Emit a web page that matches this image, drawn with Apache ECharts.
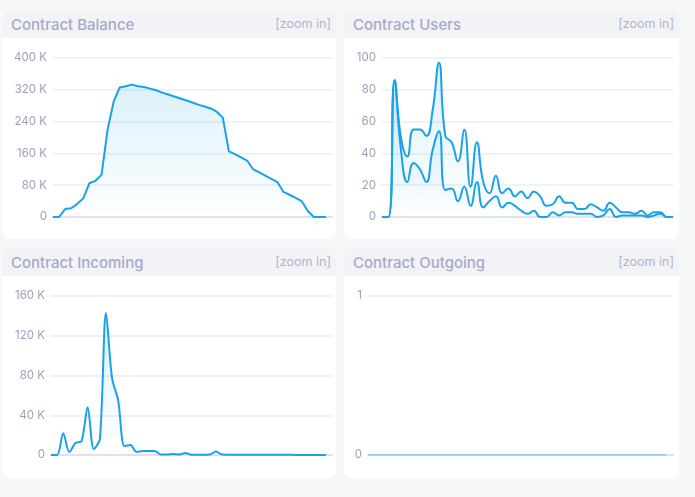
<!DOCTYPE html>
<html>
<head>
<meta charset="utf-8">
<script src="https://cdn.jsdelivr.net/npm/echarts@6/dist/echarts.min.js"></script>
<style>
  html, body { margin: 0; padding: 0; background: #f6f7f9; }
  body { width: 695px; height: 497px; position: relative; overflow: hidden; font-family: Inter, "Noto Sans", sans-serif; }
  .card { position: absolute; background: #fff; border-radius: 8px; }
  .head { height: 28px; background: #f2f3f6; border-radius: 8px 8px 0 0; position: relative; }
  .head .t { position: absolute; left: 9px; top: 5px; font-size: 15px; font-weight: 500; color: #a9a9c8; }
  .head .z { position: absolute; right: 5px; top: 6px; font-size: 12.5px; color: #b3b3cd; }
  .body { width: 100%; }
</style>
</head>
<body>
<div class="card" style="left:2px;top:10px;width:334px;height:229px">
  <div class="head"><span class="t">Contract Balance</span><span class="z">[zoom in]</span></div>
  <div class="body" id="c_balance" style="height:201px"></div>
</div>
<div class="card" style="left:344px;top:10px;width:335px;height:229px">
  <div class="head"><span class="t">Contract Users</span><span class="z">[zoom in]</span></div>
  <div class="body" id="c_users" style="height:201px"></div>
</div>
<div class="card" style="left:2px;top:248px;width:334px;height:230px">
  <div class="head"><span class="t">Contract Incoming</span><span class="z">[zoom in]</span></div>
  <div class="body" id="c_incoming" style="height:202px"></div>
</div>
<div class="card" style="left:344px;top:248px;width:335px;height:230px">
  <div class="head"><span class="t">Contract Outgoing</span><span class="z">[zoom in]</span></div>
  <div class="body" id="c_outgoing" style="height:202px"></div>
</div>
<script>
// x slots (days), 47 per chart
var days = [];
for (var d = 1; d <= 47; d++) days.push('d' + d);

var balance = [0, 0, 20000, 22000, 33000, 47000, 85000, 91000, 106000, 220000,
  290000, 326000, 329000, 333000, 329000, 327000, 323000, 319000, 313000, 308000,
  303000, 298000, 293000, 288000, 282000, 278000, 273000, 265000, 250000, 165000,
  158000, 150000, 142000, 120000, 112000, 104000, 96000, 88000, 63000, 56000,
  48000, 40000, 15000, 0, 0, 0];

var usersA = [0, 0, 86, 50, 38, 55, 55, 51, 67, 97, 51, 47, 35, 55, 19, 47, 22, 15, 26, 15,
  18, 13, 16, 12, 16, 13, 7, 8, 13, 9, 9, 5, 5, 8, 6, 4, 9, 6, 3, 3,
  2, 4, 1, 3, 3, 0, 0];
var usersB = [0, 0, 86, 42, 22, 34, 30, 22, 42, 54, 17, 18, 10, 19, 7, 22, 6, 10, 13, 6,
  9, 7, 4, 2, 4, 0, 0, 3, 1, 3, 3, 2, 2, 2, 0, 1, 5, 0, 1, 1,
  1, 1, 0, 1, 2, 0, 0];

var incoming = [0, 0, 22000, 3000, 12000, 14000, 48000, 6000, 16000, 143000,
  77000, 55000, 9000, 10000, 3000, 4000, 4000, 4000, 500, 500,
  1000, 500, 2000, 300, 300, 300, 500, 3500, 500, 300,
  200, 200, 200, 200, 200, 200, 200, 200, 200, 200,
  100, 100, 100, 100, 0, 0];

var outgoing = [0, 0, 0, 0, 0, 0, 0, 0, 0, 0, 0, 0, 0, 0, 0, 0, 0, 0, 0, 0,
  0, 0, 0, 0, 0, 0, 0, 0, 0, 0, 0, 0, 0, 0, 0, 0, 0, 0, 0, 0,
  0, 0, 0, 0, 0, 0];

var LINE = '#19a2e6';

function kfmt(v) {
  return v === 0 ? '0' : (v / 1000) + ' K';
}

function area() {
  return {
    color: new echarts.graphic.LinearGradient(0, 0, 0, 1, [
      { offset: 0, color: 'rgba(25,162,230,0.22)' },
      { offset: 1, color: 'rgba(25,162,230,0)' }
    ])
  };
}

function make_option(grid, yMax, yStep, fmt, series) {
  return {
    animation: false,
    grid: grid,
    xAxis: {
      type: 'category',
      boundaryGap: false,
      data: days,
      axisLine: { show: true, lineStyle: { color: '#dde2ec', width: 2 } },
      axisTick: { show: false },
      axisLabel: { show: false },
      splitLine: { show: false }
    },
    yAxis: {
      type: 'value',
      min: 0,
      max: yMax,
      interval: yStep,
      axisLine: { show: false },
      axisTick: { show: false },
      axisLabel: { color: '#9aa2b8', fontSize: 11.5, margin: 6, fontFamily: 'Inter, sans-serif', formatter: fmt },
      splitLine: { lineStyle: { color: '#eaedf4', width: 1.5 } }
    },
    series: series
  };
}

function line(data, smooth) {
  return {
    type: 'line',
    data: data,
    smooth: smooth,
    showSymbol: false,
    lineStyle: { color: LINE, width: 2 },
    areaStyle: area()
  };
}

var cBalance = echarts.init(document.getElementById('c_balance'));
cBalance.setOption(make_option(
  { left: 51, right: 4, top: 20, bottom: 22 }, 400000, 80000, kfmt,
  [line(balance, false)]));

var cUsers = echarts.init(document.getElementById('c_users'));
cUsers.setOption(make_option(
  { left: 38, right: 6, top: 20, bottom: 22 }, 100, 20, null,
  [line(usersA, true), line(usersB, true)]));

var cIncoming = echarts.init(document.getElementById('c_incoming'));
cIncoming.setOption(make_option(
  { left: 49, right: 4, top: 20, bottom: 23 }, 160000, 40000, kfmt,
  [line(incoming, 0.3)]));

var cOutgoing = echarts.init(document.getElementById('c_outgoing'));
var outLine = line(outgoing, false);
outLine.lineStyle = { color: '#7cc8ee', width: 1.5 };
cOutgoing.setOption(make_option(
  { left: 24, right: 6, top: 20, bottom: 23 }, 1, 1, null,
  [outLine]));
</script>
</body>
</html>
